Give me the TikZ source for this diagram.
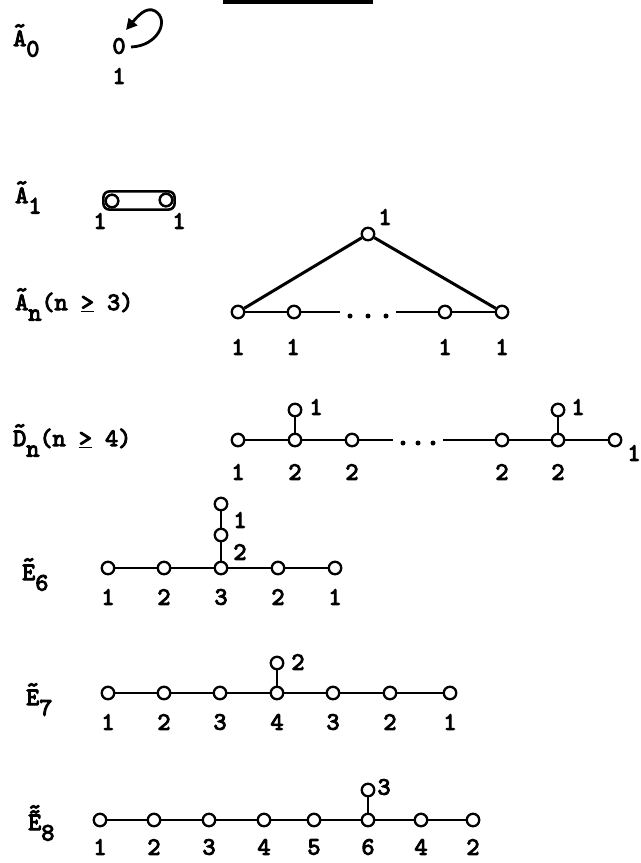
\documentclass[tikz,border=0pt]{standalone}
\usepackage{fontspec}
\newfontfamily\twf{lmmono10-regular.otf}[FakeBold=4]
\usetikzlibrary{arrows.meta,fit}
\newcommand{\tw}{\twf\fontsize{25bp}{29bp}\selectfont}
\newcommand{\tld}[1]{\leavevmode\rlap{\raisebox{0.5em}{\char"7E}}#1}
\newcommand{\dtld}[1]{\leavevmode\rlap{\raisebox{0.42em}{\char"7E}}\rlap{\raisebox{0.62em}{\char"7E}}#1}
\newcommand{\sbs}[1]{\raisebox{-0.42em}{#1}}
\tikzset{
  vtx/.style={circle,draw,line width=2.3bp,minimum size=12.5bp,inner sep=0pt,fill=white},
  lbl/.style={font=\tw,inner sep=0pt},
  lft/.style={font=\tw,inner sep=0pt,anchor=base west},
  edg/.style={line width=2.2bp},
  thk/.style={line width=3bp},
  dotn/.style={circle,fill,minimum size=5bp,inner sep=0pt},
}
\begin{document}
\begin{tikzpicture}[x=1bp,y=-1bp]
\useasboundingbox[fill=white] (0,0) rectangle (641,863);
% underline of cut-off title
\coordinate (ula) at (223,2);
\coordinate (ulb) at (373,2);
\draw[thk] (ula) -- (ulb);

% ---------- A0 ----------
\node[lft] (labA0) at (13,46) {\tld{A}\sbs{0}};
\node[lbl] (n0) at (119,46) {0};
\node[lbl] (l0) at (119,76) {1};
\coordinate (lpA) at (131,47);
\coordinate (lpB) at (126,30);
\draw[line width=2.8bp,-{Triangle[length=11bp,width=11bp]}]
  (lpA) .. controls (158,46) and (170,20) .. (155,11)
        .. controls (146,6) and (137,17) .. (lpB);

% ---------- A1 ----------
\node[lft] (labA1) at (15,203) {\tld{A}\sbs{1}};
\node[vtx] (p1) at (112,201) {};
\node[vtx] (p2) at (166,200) {};
\node[draw,line width=2.6bp,rounded corners=6bp,inner sep=1.2bp,fit=(p1)(p2)] (dbl) {};
\node[vtx] at (p1) {};
\node[vtx] at (p2) {};
\node[lbl] (p1l) at (100,221) {1};
\node[lbl] (p2l) at (179,221) {1};

% ---------- An ----------
\node[lft] (labAn) at (15,310) {\tld{A}\sbs{n}(n \underline{>} 3)};
\node[vtx] (at) at (368,234) {};
\foreach \x [count=\i] in {238,294,445,502} \node[vtx] (a\i) at (\x,312) {};
\coordinate (ad1) at (340,312);
\coordinate (ad2) at (396,312);
\foreach \x [count=\i] in {350,368,386} \node[dotn] (adot\i) at (\x,316) {};
\draw[edg] (a1) -- (a2) -- (ad1);
\draw[edg] (ad2) -- (a3) -- (a4);
\draw[thk] (a1) -- (at) -- (a4);
\node[lbl] (atl) at (385,217) {1};
\foreach \x [count=\i] in {238,293,445,502} \node[lbl] (al\i) at (\x,347) {1};

% ---------- Dn ----------
\node[lft] (labDn) at (13,446) {\tld{D}\sbs{n}(n \underline{>} 4)};
\foreach \x [count=\i] in {238,295,352,502,558,615} \node[vtx] (d\i) at (\x,440) {};
\node[vtx] (dt2) at (295,410) {};
\node[vtx] (dt5) at (558,410) {};
\coordinate (dd1) at (393,440);
\coordinate (dd2) at (443,440);
\foreach \x [count=\i] in {403,418,433} \node[dotn] (ddot\i) at (\x,443) {};
\draw[edg] (d1) -- (d2) -- (d3) -- (dd1);
\draw[edg] (dd2) -- (d4) -- (d5) -- (d6);
\draw[edg] (d2) -- (dt2);
\draw[edg] (d5) -- (dt5);
\node[lbl] (dt2l) at (316,407) {1};
\node[lbl] (dt5l) at (578,407) {1};
\node[lbl] (d6l) at (634,453) {1};
\foreach \x/\t [count=\i] in {238/1,295/2,352/2,502/2,558/2} \node[lbl] (dl\i) at (\x,472) {\t};

% ---------- E6 ----------
\node[lft] (labE6) at (22,580) {\tld{E}\sbs{6}};
\foreach \x [count=\i] in {108,164,221,278,335} \node[vtx] (e6n\i) at (\x,568) {};
\node[vtx] (e6m) at (221,535) {};
\node[vtx] (e6t) at (221,504) {};
\draw[edg] (e6n1) -- (e6n2) -- (e6n3) -- (e6n4) -- (e6n5);
\draw[edg] (e6n3) -- (e6m) -- (e6t);
\node[lbl] (e6tl) at (240,520) {1};
\node[lbl] (e6ml) at (240,552) {2};
\foreach \x/\t [count=\i] in {108/1,164/2,221/3,278/2,335/1} \node[lbl] (e6l\i) at (\x,597) {\t};

% ---------- E7 ----------
\node[lft] (labE7) at (26,705) {\tld{E}\sbs{7}};
\foreach \x [count=\i] in {108,164,220,277,333,390,450} \node[vtx] (e7n\i) at (\x,693) {};
\node[vtx] (e7t) at (277,663) {};
\draw[edg] (e7n1) -- (e7n2) -- (e7n3) -- (e7n4) -- (e7n5) -- (e7n6) -- (e7n7);
\draw[edg] (e7n4) -- (e7t);
\node[lbl] (e7tl) at (298,662) {2};
\foreach \x/\t [count=\i] in {108/1,164/2,220/3,277/4,333/3,390/2,450/1} \node[lbl] (e7l\i) at (\x,722) {\t};

% ---------- E8 ----------
\node[lft] (labE8) at (28,830) {\dtld{E}\sbs{8}};
\foreach \x [count=\i] in {100,154,209,264,314,368,421,473} \node[vtx] (e8n\i) at (\x,820) {};
\node[vtx] (e8t) at (368,790) {};
\draw[edg] (e8n1) -- (e8n2) -- (e8n3) -- (e8n4) -- (e8n5) -- (e8n6) -- (e8n7) -- (e8n8);
\draw[edg] (e8n6) -- (e8t);
\node[lbl] (e8tl) at (384,787) {3};
\foreach \x/\t [count=\i] in {100/1,154/2,209/3,264/4,314/5,368/6,421/4,473/2} \node[lbl] (e8l\i) at (\x,847) {\t};
\end{tikzpicture}
\end{document}
